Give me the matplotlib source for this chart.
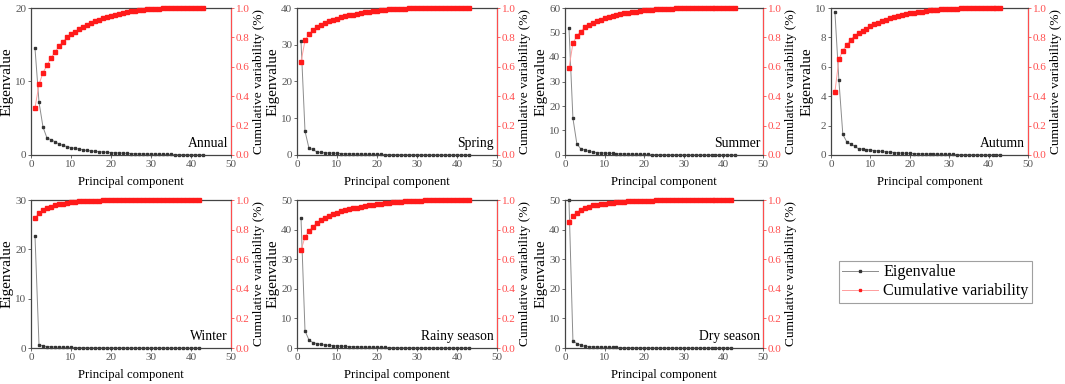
import matplotlib
matplotlib.use("Agg")
import matplotlib.pyplot as plt
from matplotlib.lines import Line2D

plt.rcParams['font.family'] = ['Liberation Serif', 'DejaVu Serif']

panels = ["Annual", "Spring", "Summer", "Autumn", "Winter", "Rainy season", "Dry season"]
eig_ylim = [20, 40, 60, 10, 30, 50, 50]
eig_ticks = [[0, 10, 20], [0, 10, 20, 30, 40], [0, 10, 20, 30, 40, 50, 60],
             [0, 2, 4, 6, 8, 10], [0, 10, 20, 30], [0, 10, 20, 30, 40, 50],
             [0, 10, 20, 30, 40, 50]]

eig_annual = [14.5, 7.2, 3.8, 2.3, 2.1, 1.8, 1.5, 1.3, 1.15, 1.0, 0.9, 0.8, 0.7, 0.62, 0.55,
              0.5, 0.45, 0.4, 0.36, 0.33, 0.3, 0.28, 0.25, 0.22, 0.2, 0.18, 0.16, 0.15, 0.13,
              0.12, 0.11, 0.1, 0.09, 0.08, 0.07, 0.06, 0.05, 0.05, 0.04, 0.03, 0.03, 0.02, 0.02]
cum_annual = [0.32, 0.48, 0.56, 0.61, 0.66, 0.70, 0.74, 0.77, 0.80, 0.82, 0.84, 0.855, 0.87,
              0.885, 0.898, 0.91, 0.92, 0.93, 0.94, 0.948, 0.955, 0.962, 0.968, 0.973, 0.978,
              0.982, 0.986, 0.989, 0.991, 0.993, 0.995, 0.996, 0.997, 0.998, 0.999, 0.999,
              1.0, 1.0, 1.0, 1.0, 1.0, 1.0, 1.0]

eig_spring = [31.0, 6.5, 1.8, 1.5, 0.8, 0.7, 0.6, 0.55, 0.5, 0.45, 0.4, 0.36, 0.33, 0.3, 0.27,
              0.25, 0.22, 0.2, 0.18, 0.16, 0.15, 0.13, 0.12, 0.11, 0.1, 0.09, 0.08, 0.07, 0.07,
              0.06, 0.05, 0.05, 0.04, 0.04, 0.03, 0.03, 0.03, 0.02, 0.02, 0.02, 0.01, 0.01, 0.01]
cum_spring = [0.63, 0.78, 0.82, 0.85, 0.87, 0.885, 0.90, 0.91, 0.92, 0.928, 0.936, 0.943,
              0.95, 0.955, 0.96, 0.965, 0.97, 0.974, 0.978, 0.982, 0.985, 0.988, 0.99, 0.992,
              0.994, 0.995, 0.996, 0.997, 0.998, 0.998, 0.999, 0.999, 1.0, 1.0, 1.0, 1.0, 1.0,
              1.0, 1.0, 1.0, 1.0, 1.0, 1.0]

eig_summer = [52.0, 15.0, 4.5, 2.5, 2.0, 1.5, 1.2, 1.0, 0.9, 0.8, 0.7, 0.62, 0.55, 0.5, 0.45,
              0.4, 0.36, 0.32, 0.29, 0.26, 0.23, 0.2, 0.18, 0.16, 0.14, 0.12, 0.11, 0.1, 0.09,
              0.08, 0.07, 0.06, 0.05, 0.05, 0.04, 0.04, 0.03, 0.03, 0.02, 0.02, 0.02, 0.01, 0.01]
cum_summer = [0.59, 0.76, 0.81, 0.84, 0.87, 0.885, 0.90, 0.91, 0.92, 0.93, 0.938, 0.945,
              0.952, 0.958, 0.963, 0.968, 0.972, 0.976, 0.98, 0.983, 0.986, 0.988, 0.99,
              0.992, 0.994, 0.995, 0.996, 0.997, 0.998, 0.998, 0.999, 0.999, 1.0, 1.0, 1.0,
              1.0, 1.0, 1.0, 1.0, 1.0, 1.0, 1.0, 1.0]

eig_autumn = [9.7, 5.1, 1.4, 0.9, 0.75, 0.6, 0.42, 0.4, 0.37, 0.33, 0.3, 0.27, 0.24, 0.21,
              0.19, 0.17, 0.15, 0.13, 0.12, 0.11, 0.1, 0.09, 0.08, 0.075, 0.07, 0.06, 0.055,
              0.05, 0.045, 0.04, 0.035, 0.03, 0.03, 0.025, 0.02, 0.02, 0.02, 0.015, 0.01, 0.01,
              0.01, 0.01, 0.01]
cum_autumn = [0.43, 0.65, 0.71, 0.75, 0.785, 0.81, 0.83, 0.845, 0.86, 0.875, 0.888, 0.90,
              0.91, 0.92, 0.93, 0.938, 0.945, 0.952, 0.958, 0.963, 0.968, 0.972, 0.976, 0.98,
              0.983, 0.986, 0.988, 0.99, 0.992, 0.994, 0.995, 0.996, 0.997, 0.998, 0.998,
              0.999, 0.999, 1.0, 1.0, 1.0, 1.0, 1.0, 1.0]

eig_winter = [22.7, 0.7, 0.4, 0.3, 0.25, 0.2, 0.17, 0.15, 0.13, 0.12, 0.1, 0.09, 0.08, 0.07,
              0.06, 0.06, 0.05, 0.05, 0.04, 0.04, 0.03, 0.03, 0.03, 0.02, 0.02, 0.02, 0.02,
              0.01, 0.01, 0.01, 0.01, 0.01, 0.01, 0.01, 0.01, 0.01, 0.0, 0.0, 0.0, 0.0, 0.0, 0.0]
cum_winter = [0.88, 0.91, 0.93, 0.945, 0.955, 0.963, 0.97, 0.975, 0.98, 0.984, 0.987, 0.99,
              0.992, 0.993, 0.994, 0.995, 0.996, 0.997, 0.997, 0.998, 0.998, 0.999, 0.999,
              0.999, 1.0, 1.0, 1.0, 1.0, 1.0, 1.0, 1.0, 1.0, 1.0, 1.0, 1.0, 1.0, 1.0, 1.0,
              1.0, 1.0, 1.0, 1.0]

eig_rainy = [44.0, 5.8, 2.7, 1.8, 1.5, 1.2, 1.0, 0.9, 0.8, 0.7, 0.62, 0.55, 0.5, 0.45, 0.4,
             0.36, 0.32, 0.29, 0.26, 0.23, 0.2, 0.18, 0.16, 0.14, 0.12, 0.11, 0.1, 0.09, 0.08,
             0.07, 0.06, 0.05, 0.05, 0.04, 0.04, 0.03, 0.03, 0.02, 0.02, 0.02, 0.01, 0.01, 0.01]
cum_rainy = [0.66, 0.75, 0.79, 0.82, 0.845, 0.865, 0.88, 0.895, 0.905, 0.915, 0.923, 0.93,
             0.937, 0.943, 0.949, 0.954, 0.959, 0.963, 0.967, 0.971, 0.975, 0.978, 0.981,
             0.984, 0.986, 0.988, 0.99, 0.992, 0.993, 0.995, 0.996, 0.997, 0.998, 0.998,
             0.999, 0.999, 1.0, 1.0, 1.0, 1.0, 1.0, 1.0, 1.0]

eig_dry = [50.0, 2.5, 1.5, 0.9, 0.6, 0.5, 0.4, 0.35, 0.3, 0.26, 0.22, 0.2, 0.18, 0.16, 0.14,
           0.12, 0.11, 0.1, 0.09, 0.08, 0.07, 0.06, 0.05, 0.05, 0.04, 0.04, 0.03, 0.03, 0.03,
           0.02, 0.02, 0.02, 0.01, 0.01, 0.01, 0.01, 0.01, 0.01, 0.0, 0.0, 0.0, 0.0]
cum_dry = [0.85, 0.89, 0.915, 0.935, 0.948, 0.956, 0.963, 0.968, 0.972, 0.976, 0.979, 0.982,
           0.984, 0.986, 0.988, 0.99, 0.991, 0.992, 0.993, 0.994, 0.995, 0.996, 0.997, 0.997,
           0.998, 0.998, 0.999, 0.999, 0.999, 1.0, 1.0, 1.0, 1.0, 1.0, 1.0, 1.0, 1.0, 1.0,
           1.0, 1.0, 1.0, 1.0]

eig_all = [eig_annual, eig_spring, eig_summer, eig_autumn, eig_winter, eig_rainy, eig_dry]
cum_all = [cum_annual, cum_spring, cum_summer, cum_autumn, cum_winter, cum_rainy, cum_dry]

W, H = 1065, 384
fig = plt.figure(figsize=(W / 100, H / 100), dpi=100)

# axes boxes in pixels: left, right, top, bottom
boxes = [(31, 231, 8, 155), (297, 497, 8, 155), (565, 763, 8, 155), (831, 1028, 8, 155),
         (31, 231, 200, 348), (297, 497, 200, 348), (565, 763, 200, 348)]

GRAY_LINE = '#8c8c8c'
DARK = '#333333'
RED_LINE = '#ff9c9c'
RED = '#ff1a1a'
TICK_GRAY = '#555555'
TICK_RED = '#ff4d4d'
FS_X = 9.2
FS_EIG = 11.0
FS_CUM = 9.6
FS_NAME = 9.8
FS_TICK = 8

for i, name in enumerate(panels):
    l, r, t, b = boxes[i]
    ax = fig.add_axes([l / W, 1 - b / H, (r - l) / W, (b - t) / H])
    ax2 = ax.twinx()
    ev = eig_all[i]
    cv = cum_all[i]
    x1 = list(range(1, len(ev) + 1))
    x2 = list(range(1, len(cv) + 1))
    ax.plot(x1, ev, '-', color=GRAY_LINE, lw=0.7, marker='s', ms=1.7,
            mfc=DARK, mec=DARK, clip_on=False, zorder=3)
    ax2.plot(x2, cv, '-', color=RED_LINE, lw=0.7, marker='s', ms=2.3,
             mfc=RED, mec=RED, clip_on=False, zorder=3)
    ax.set_xlim(0, 50)
    ax.set_ylim(0, eig_ylim[i])
    ax.set_yticks(eig_ticks[i])
    ax.set_xticks([0, 10, 20, 30, 40, 50])
    ax2.set_ylim(0, 1.0)
    ax2.set_yticks([0.0, 0.2, 0.4, 0.6, 0.8, 1.0])
    ax2.set_yticklabels(['0.0', '0.2', '0.4', '0.6', '0.8', '1.0'])
    ax.tick_params(axis='both', labelsize=FS_TICK, colors=TICK_GRAY, length=2, width=0.6,
                   direction='out', pad=1.5)
    ax2.tick_params(axis='y', labelsize=FS_TICK, colors=TICK_RED, length=2, width=0.6,
                    direction='out', pad=1.5)
    for s in ['left', 'bottom', 'top']:
        ax2.spines[s].set_color('#444444')
        ax2.spines[s].set_linewidth(0.8)
    ax2.spines['right'].set_color(TICK_RED)
    ax2.spines['right'].set_linewidth(0.8)
    ax.set_xlabel('Principal component', fontsize=FS_X, labelpad=5)
    ax.set_ylabel('Eigenvalue', fontsize=FS_EIG, labelpad=1)
    ax2.set_ylabel('Cumulative variability (%)', fontsize=FS_CUM, labelpad=2)
    ax.text(0.985, 0.035, name, transform=ax.transAxes, ha='right', va='bottom',
            fontsize=FS_NAME, zorder=5)

handles = [Line2D([], [], color=GRAY_LINE, lw=0.7, marker='s', ms=1.7, mfc=DARK, mec=DARK),
           Line2D([], [], color=RED_LINE, lw=0.7, marker='s', ms=1.7, mfc=RED, mec=RED)]
leg = fig.legend(handles, ['Eigenvalue', 'Cumulative variability'],
                 loc='upper left', bbox_to_anchor=(839 / W, 1 - 261 / H),
                 fontsize=11.6, frameon=True, fancybox=False, edgecolor='#888888',
                 handlelength=2.2, handletextpad=0.35, borderpad=0.2, labelspacing=0.2,
                 borderaxespad=0)
leg.get_frame().set_linewidth(0.8)

fig.savefig('out.png', dpi=100)
